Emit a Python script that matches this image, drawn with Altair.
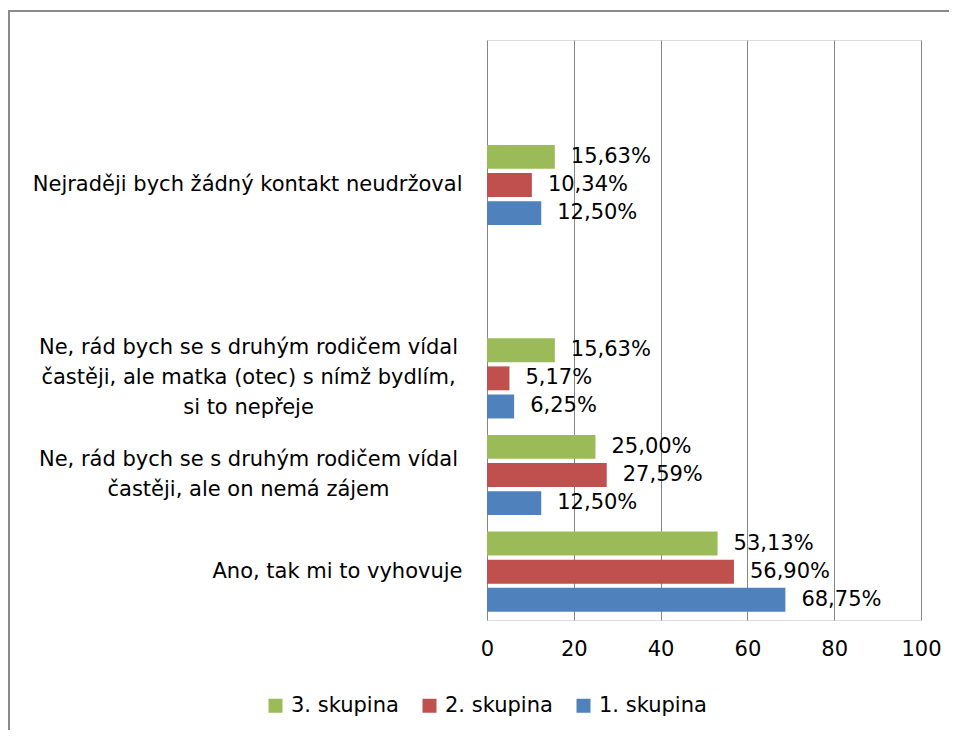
import altair as alt
import pandas as pd

# ---- data ----
categories = [
    " ",
    "Nejraději bych žádný kontakt neudržoval",
    "  ",
    "Ne, rád bych se s druhým rodičem vídal|častěji, ale matka (otec) s nímž bydlím,|si to nepřeje",
    "Ne, rád bych se s druhým rodičem vídal|častěji, ale on nemá zájem",
    "Ano, tak mi to vyhovuje",
]
answer_cats = [categories[1], categories[3], categories[4], categories[5]]
groups = ["3. skupina", "2. skupina", "1. skupina"]
skupina3 = [15.63, 15.63, 25.00, 53.13]
skupina2 = [10.34, 5.17, 27.59, 56.90]
skupina1 = [12.50, 6.25, 12.50, 68.75]
x_ticks = [0, 20, 40, 60, 80, 100]
colors = ["#9BBB59", "#C0504D", "#4F81BD"]

rows = []
for g, vals in zip(groups, [skupina3, skupina2, skupina1]):
    for c, v in zip(answer_cats, vals):
        rows.append({"cat": c, "group": g, "v": v})
df = pd.DataFrame(rows)

FONT = "DejaVu Sans"
FS = 21

y_enc = alt.Y(
    "cat:N",
    scale=alt.Scale(domain=categories, paddingInner=0.17, paddingOuter=0.085),
    axis=alt.Axis(
        title=None,
        labelExpr="split(datum.label, '|')",
        labelFont=FONT,
        labelFontSize=FS,
        labelColor="#000000",
        labelLineHeight=30,
        labelLimit=0,
        ticks=False,
        tickSize=0,
        domain=False,
        labelAlign={"condition": {"test": "indexof(datum.value, '|') < 0", "value": "right"}, "value": "center"},
        labelPadding={"condition": {"test": "indexof(datum.value, '|') < 0", "value": 25}, "value": 239},
        labelOffset={
            "condition": [
                {"test": "length(split(datum.value, '|')) == 3", "value": -30},
                {"test": "length(split(datum.value, '|')) == 2", "value": -15},
            ],
            "value": 0,
        },
    ),
)
yoff_enc = alt.YOffset("group:N", sort=groups, scale=alt.Scale(domain=groups, paddingInner=0.15))
x_enc = alt.X(
    "v:Q",
    scale=alt.Scale(domain=[0, 100], nice=False),
    axis=alt.Axis(
        title=None,
        values=x_ticks,
        grid=True,
        gridColor="#868686",
        gridWidth=1,
        ticks=False,
        domain=False,
        labelFlush=False,
        labelFont=FONT,
        labelFontSize=FS,
        labelColor="#000000",
        labelPadding=18,
    ),
)

base = alt.Chart(df).encode(y=y_enc, yOffset=yoff_enc, x=x_enc)

bars = base.mark_bar().encode(
    color=alt.Color(
        "group:N",
        scale=alt.Scale(domain=groups, range=colors),
        legend=alt.Legend(
            title=None,
            orient="none",
            legendX=-222,
            legendY=655,
            direction="horizontal",
            symbolType="square",
            symbolSize=196,
            symbolStrokeWidth=0,
            labelFont=FONT,
            labelFontSize=FS,
            labelColor="#000000",
            labelOffset=5,
            columnPadding=20,
        ),
    )
)

labels = base.transform_calculate(
    lbl="replace(format(datum.v, '.2f'), '.', ',') + '%'"
).mark_text(align="left", baseline="middle", dx=16, font=FONT, fontSize=FS, color="#000000").encode(
    text="lbl:N"
)

frame_df = pd.DataFrame({"k": [0]})
frame_top = alt.Chart(frame_df).mark_rule(color="#8a8a8a", strokeWidth=2).encode(
    x=alt.value(-478), x2=alt.value(470), y=alt.value(-29)
)
frame_left = alt.Chart(frame_df).mark_rule(color="#8a8a8a", strokeWidth=2).encode(
    x=alt.value(-478), y=alt.value(-30), y2=alt.value(700)
)

chart = (
    alt.layer(bars, labels, frame_top, frame_left)
    .properties(
        width=434,
        height=580,
        autosize=alt.AutoSizeParams(type="none"),
        padding={"left": 479, "top": 32, "right": 28, "bottom": 110},
    )
    .configure_view(strokeWidth=0)
    .configure(background="#ffffff")
)

chart.save("out.html", embed_options={"renderer": "svg", "actions": False})
